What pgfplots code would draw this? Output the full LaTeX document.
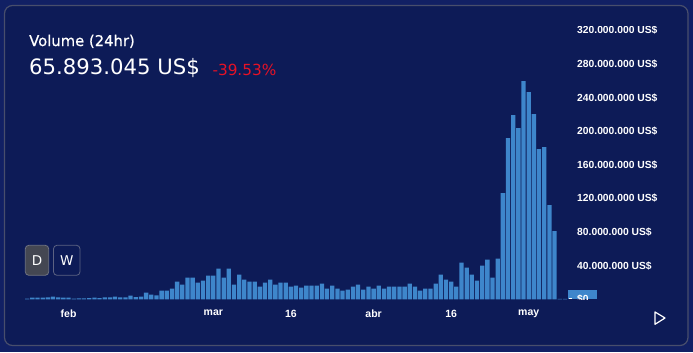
\documentclass[border=0pt]{standalone}
\usepackage{fontspec}
\setmainfont{Liberation Sans}
\newfontfamily\dejavu{DejaVu Sans}
\newfontfamily\dejavumed[FakeBold=0.6]{DejaVu Sans}
\usepackage{pgfplots}
\pgfplotsset{compat=1.18}
\definecolor{outerbg}{RGB}{17,32,100}
\definecolor{cardbg}{RGB}{13,27,87}
\definecolor{cardborder}{RGB}{72,78,108}
\definecolor{barblue}{RGB}{62,134,203}
\definecolor{redpct}{RGB}{230,18,38}
\definecolor{dbtn}{RGB}{68,71,82}
\definecolor{dbtnborder}{RGB}{112,115,128}
\definecolor{wbtnborder}{RGB}{92,98,130}
\begin{document}
\begin{tikzpicture}[x=1bp,y=1bp]
\fill[outerbg] (0,0) rectangle (693,352);
\filldraw[fill=cardbg, draw=cardborder, line width=1.2bp, rounded corners=8bp] (4.5,6.5) rectangle (688,346.5);
% header
\node[anchor=base west, inner sep=0pt, text=white, font=\dejavumed\fontsize{14.8bp}{17bp}\selectfont] at (29,306) {Volume (24hr)};
\node[anchor=base west, inner sep=0pt, text=white, font=\dejavu\fontsize{21.2bp}{24bp}\selectfont] at (29,278) {65.893.045 US\$};
\node[anchor=base west, inner sep=0pt, text=redpct, font=\dejavu\fontsize{15.3bp}{17bp}\selectfont] at (212.3,277) {-39.53\%};
% buttons
\filldraw[fill=dbtn, draw=dbtnborder, line width=0.8bp, rounded corners=3.5bp] (25.3,76.7) rectangle (48.7,106.7);
\node[text=white, font=\dejavu\fontsize{13.5bp}{15bp}\selectfont] at (37,91.7) {D};
\filldraw[fill=cardbg, draw=wbtnborder, line width=0.8bp, rounded corners=3.5bp] (53.5,76.7) rectangle (80,106.7);
\node[text=white, font=\dejavu\fontsize{13.5bp}{15bp}\selectfont] at (66.7,91.7) {W};
% current value box
\fill[barblue] (568,52.7) rectangle (597,62);
\draw[white, line width=1bp] (568.8,53.3) -- (571.8,53.3);
% play icon
\draw[white, line width=1.2bp, line join=round] (655,40) -- (665,34) -- (655,27.7) -- cycle;
\begin{scope}
\clip (0,0) -- (0,352) -- (568,352) -- (568,326) -- (693,326) -- (693,52.5) -- (568,52.5) -- (568,0) -- cycle;
\begin{axis}[
  at={(24.6bp,52.7bp)}, anchor=south west,
  scale only axis, width=543.4bp, height=273.8bp,
  xmin=-0.5, xmax=104.6, ymin=0, ymax=326,
  ybar, bar width=0.83,
  axis line style={draw=none},
  major tick length=0pt,
  xtick={8,36,51,67,82,97},
  xticklabels={feb,mar,16,abr,16,may},
  xticklabel style={font=\fontsize{10.5bp}{12bp}\selectfont\bfseries, text=white, inner sep=0pt, anchor=north, yshift=-10.5bp},
  ytick={0,40,80,120,160,200,240,280,320},
  yticklabels={\$0,40.000.000 US\$,80.000.000 US\$,120.000.000 US\$,160.000.000 US\$,200.000.000 US\$,240.000.000 US\$,280.000.000 US\$,320.000.000 US\$},
  yticklabel pos=right,
  yticklabel style={font=\fontsize{10.3bp}{12bp}\selectfont\bfseries, text=white, inner sep=0pt, anchor=west, xshift=9bp},
]
\addplot[fill=barblue, draw=none] coordinates {
(0,0.8) (1,2.0) (2,2.0) (3,2.0) (4,2.4) (5,3.2) (6,2.4) (7,2.0) (8,2.0) (9,0.8)
(10,1.2) (11,1.2) (12,1.5) (13,2.0) (14,1.5) (15,2.4) (16,2.4) (17,3.2) (18,2.4) (19,2.4)
(20,4.4) (21,2.7) (22,3.2) (23,8.0) (24,5.6) (25,4.8) (26,10.4) (27,10.4) (28,12.7) (29,21.1)
(30,17.5) (31,25.8) (32,25.8) (33,19.9) (34,22.3) (35,28.2) (36,28.2) (37,36.5) (38,25.8) (39,36.5)
(40,17.5) (41,29.4) (42,23.4) (43,21.1) (44,21.1) (45,15.1) (46,19.9) (47,23.4) (48,17.5) (49,19.9)
(50,19.9) (51,15.1) (52,16.3) (53,13.9) (54,16.3) (55,16.3) (56,16.3) (57,18.7) (58,12.7) (59,16.3)
(60,12.7) (61,10.4) (62,11.5) (63,15.1) (64,17.5) (65,11.5) (66,15.1) (67,12.7) (68,16.3) (69,12.7)
(70,15.1) (71,15.1) (72,15.1) (73,15.1) (74,18.7) (75,15.1) (76,10.4) (77,12.7) (78,12.7) (79,18.7)
(80,29.4) (81,23.4) (82,21.1) (83,15.1) (84,43.7) (85,37.7) (86,29.4) (87,22.3) (88,40.1) (89,47.2)
(90,25.8) (91,48.4) (92,126.5) (93,192.0) (94,219.3) (95,203.9) (96,259.8) (97,246.7) (98,220.5) (99,178.9)
(100,181.2) (101,112.2) (102,81.3) (103,0.6) (104,0.6)
};
\end{axis}
\end{scope}
\end{tikzpicture}
\end{document}
